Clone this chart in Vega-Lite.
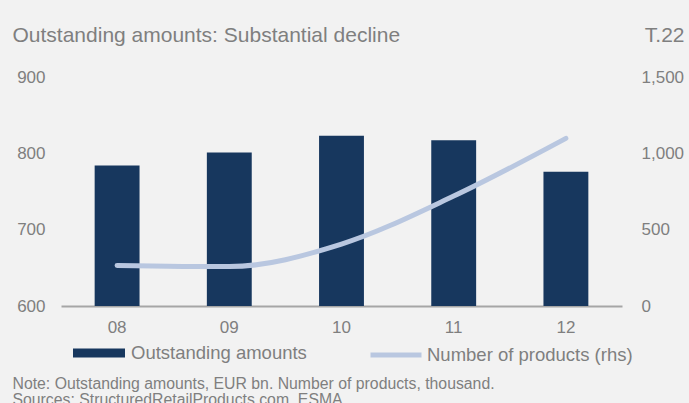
{
  "$schema": "https://vega.github.io/schema/vega-lite/v6.json",
  "width": 561,
  "height": 229,
  "autosize": {"type": "none"},
  "padding": {"left": 61, "top": 77, "right": 67, "bottom": 97},
  "background": "#f2f2f2",
  "config": {
    "font": "Liberation Sans",
    "view": {"stroke": null},
    "axis": {
      "labelColor": "#7f7f7f",
      "titleColor": "#7f7f7f",
      "labelFontSize": 17,
      "titleFontWeight": "normal",
      "grid": false,
      "ticks": false
    },
    "legend": {
      "labelColor": "#7f7f7f",
      "labelFontSize": 18.5,
      "labelLimit": 400,
      "padding": 0,
      "orient": "none"
    }
  },
  "data": {
    "values": [
      {"year": "08", "amount": 784, "products": 266},
      {"year": "09", "amount": 801, "products": 258},
      {"year": "10", "amount": 823, "products": 406},
      {"year": "11", "amount": 817, "products": 720},
      {"year": "12", "amount": 776, "products": 1098}
    ]
  },
  "layer": [
    {
      "mark": {"type": "bar"},
      "encoding": {
        "x": {
          "field": "year",
          "type": "ordinal",
          "scale": {"paddingInner": 0.6, "paddingOuter": 0.3},
          "axis": {
            "domain": true,
            "domainColor": "#a6a6a6",
            "domainWidth": 2,
            "labelAngle": 0,
            "labelPadding": 13,
            "title": ["Note: Outstanding amounts, EUR bn. Number of products, thousand.", "Sources: StructuredRetailProducts.com, ESMA."],
            "titleFontSize": 15.8,
            "titleLineHeight": 16,
            "titleX": -49,
            "titleY": 82,
            "titleAlign": "left",
            "titleBaseline": "alphabetic",
            "titleAnchor": null
          }
        },
        "y": {
          "field": "amount",
          "type": "quantitative",
          "scale": {"domain": [600, 900], "zero": false, "nice": false},
          "axis": {
            "orient": "left",
            "domain": false,
            "values": [600, 700, 800, 900],
            "labelPadding": 16,
            "title": "Outstanding amounts: Substantial decline",
            "titleFontSize": 21,
            "titleAngle": 0,
            "titleX": -49,
            "titleY": -36,
            "titleAlign": "left",
            "titleBaseline": "alphabetic",
            "titleAnchor": null
          }
        },
        "y2": {"datum": 600},
        "color": {
          "datum": "Outstanding amounts",
          "type": "nominal",
          "scale": {"range": ["#17375e"]},
          "legend": {
            "title": null,
            "symbolType": "M-1,-0.173H1V0.173H-1Z",
            "symbolSize": 2704,
            "symbolStrokeWidth": 0,
            "labelOffset": 6,
            "legendX": 12,
            "legendY": 250
          }
        }
      }
    },
    {
      "mark": {"type": "line", "strokeWidth": 5, "strokeCap": "round", "interpolate": "monotone"},
      "encoding": {
        "x": {"field": "year", "type": "ordinal"},
        "y": {
          "field": "products",
          "type": "quantitative",
          "scale": {"domain": [0, 1500], "nice": false},
          "axis": {
            "orient": "right",
            "domain": false,
            "values": [0, 500, 1000, 1500],
            "format": ",.0f",
            "labelPadding": 19,
            "title": "T.22",
            "titleFontSize": 21,
            "titleAngle": 0,
            "titleX": 62,
            "titleY": -36,
            "titleAlign": "right",
            "titleBaseline": "alphabetic",
            "titleAnchor": null
          }
        },
        "stroke": {
          "datum": "Number of products (rhs)",
          "type": "nominal",
          "scale": {"range": ["#b9c7e0"]},
          "legend": {
            "title": null,
            "symbolType": "stroke",
            "symbolSize": 2601,
            "symbolStrokeWidth": 5,
            "labelOffset": 3,
            "legendX": 307,
            "legendY": 250,
            "symbolStrokeColor": "#b9c7e0"
          }
        }
      }
    }
  ],
  "resolve": {"scale": {"y": "independent"}}
}
